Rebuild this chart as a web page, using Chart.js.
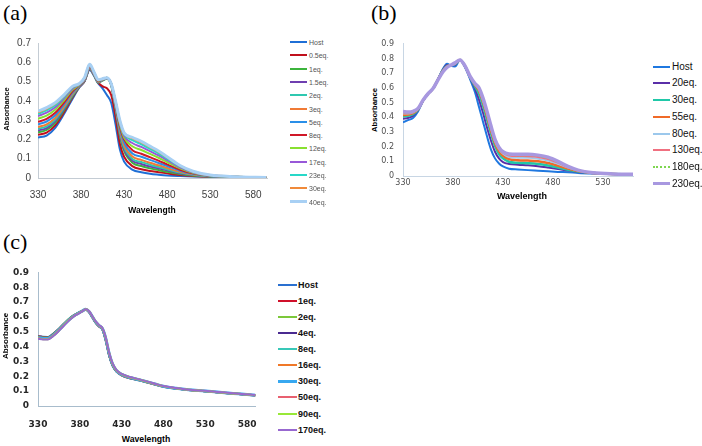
<!DOCTYPE html>
<html>
<head>
<meta charset="utf-8">
<script src="https://cdn.jsdelivr.net/npm/chart.js@4.4.1/dist/chart.umd.min.js"></script>
<style>
  html, body { margin: 0; padding: 0; background: #fff; }
  #page { position: relative; width: 702px; height: 446px; overflow: hidden; font-family: "Liberation Sans", Arial, sans-serif; }
  #page canvas { position: absolute; }
  .tag { position: absolute; font-family: "Liberation Serif", "Times New Roman", serif; font-size: 22px; line-height: 22px; color: #000; }
  .ttl { position: absolute; font-weight: bold; color: #000; white-space: nowrap; line-height: 1; }
  .rot { transform: translate(-50%, -50%) rotate(-90deg); }
  .hor { transform: translate(-50%, -50%); }
</style>
</head>
<body>
<div id="page">
  <div class="tag" style="left:3px;top:2px">(a)</div>
  <div class="tag" style="left:371px;top:2px">(b)</div>
  <div class="tag" style="left:3px;top:231px">(c)</div>

  <canvas id="chartA" width="280" height="176" style="left:0;top:30px"></canvas>
  <canvas id="chartB" width="265" height="160" style="left:380px;top:30px"></canvas>
  <canvas id="chartC" width="270" height="172" style="left:0;top:258px"></canvas>

  <div class="ttl rot" style="left:7px;top:109px;font-size:7.5px">Absorbance</div>
  <div class="ttl hor" style="left:152px;top:210px;font-size:8.5px">Wavelength</div>
  <div class="ttl rot" style="left:375px;top:110px;font-size:7.6px">Absorbance</div>
  <div class="ttl hor" style="left:522px;top:196px;font-size:9px">Wavelength</div>
  <div class="ttl rot" style="left:6px;top:336px;font-size:8px">Absorbance</div>
  <div class="ttl hor" style="left:146px;top:439px;font-size:8.7px">Wavelength</div>
</div>

<script>
/* ── (a) titration, 13 spectra ── */
const wlA = [330, 340, 350, 360, 370, 378, 384, 390, 395, 400, 405, 410, 415, 420, 425, 430, 440, 450, 460, 470, 480, 495, 510, 530, 560, 595];
const namesA = ['Host', '0.5eq.', '1eq.', '1.5eq.', '2eq.', '3eq.', '5eq.', '8eq.', '12eq.', '17eq.', '23eq.', '30eq.', '40eq.'];
const a_host = [0.21, 0.22, 0.26, 0.33, 0.41, 0.47, 0.50, 0.56, 0.53, 0.49, 0.465, 0.43, 0.39, 0.28, 0.15, 0.085, 0.042, 0.03, 0.022, 0.017, 0.013, 0.01, 0.008, 0.006, 0.004, 0.002];
const a_05eq = [0.224, 0.235, 0.273, 0.34, 0.417, 0.472, 0.502, 0.565, 0.535, 0.495, 0.475, 0.465, 0.43, 0.32, 0.18, 0.11, 0.06, 0.045, 0.036, 0.03, 0.024, 0.016, 0.011, 0.007, 0.004, 0.002];
const a_1eq = [0.237, 0.249, 0.286, 0.35, 0.423, 0.474, 0.504, 0.566, 0.534, 0.494, 0.505, 0.515, 0.48, 0.36, 0.22, 0.14, 0.078, 0.062, 0.05, 0.041, 0.032, 0.021, 0.013, 0.008, 0.005, 0.002];
const a_15eq = [0.246, 0.259, 0.295, 0.357, 0.428, 0.475, 0.505, 0.568, 0.535, 0.495, 0.507, 0.516, 0.483, 0.365, 0.23, 0.15, 0.088, 0.073, 0.06, 0.05, 0.04, 0.025, 0.015, 0.009, 0.005, 0.002];
const a_2eq = [0.255, 0.268, 0.303, 0.363, 0.431, 0.477, 0.507, 0.57, 0.537, 0.497, 0.508, 0.517, 0.485, 0.37, 0.24, 0.16, 0.097, 0.083, 0.069, 0.057, 0.045, 0.028, 0.017, 0.009, 0.005, 0.002];
const a_3eq = [0.264, 0.278, 0.312, 0.37, 0.436, 0.478, 0.508, 0.572, 0.538, 0.498, 0.509, 0.518, 0.487, 0.375, 0.25, 0.17, 0.11, 0.094, 0.079, 0.066, 0.052, 0.032, 0.019, 0.01, 0.005, 0.002];
const a_5eq = [0.278, 0.293, 0.325, 0.38, 0.443, 0.48, 0.51, 0.575, 0.54, 0.50, 0.51, 0.519, 0.488, 0.38, 0.26, 0.185, 0.126, 0.11, 0.094, 0.078, 0.062, 0.038, 0.022, 0.011, 0.006, 0.002];
const a_8eq = [0.291, 0.307, 0.338, 0.39, 0.449, 0.482, 0.512, 0.578, 0.542, 0.502, 0.511, 0.519, 0.489, 0.385, 0.27, 0.20, 0.143, 0.126, 0.108, 0.09, 0.071, 0.043, 0.024, 0.012, 0.006, 0.002];
const a_12eq = [0.307, 0.324, 0.354, 0.402, 0.457, 0.484, 0.514, 0.582, 0.544, 0.505, 0.512, 0.52, 0.489, 0.39, 0.28, 0.21, 0.163, 0.145, 0.125, 0.105, 0.083, 0.05, 0.027, 0.013, 0.006, 0.003];
const a_17eq = [0.321, 0.339, 0.367, 0.412, 0.463, 0.486, 0.516, 0.585, 0.546, 0.507, 0.513, 0.52, 0.49, 0.395, 0.29, 0.22, 0.18, 0.161, 0.139, 0.118, 0.093, 0.055, 0.03, 0.014, 0.007, 0.003];
const a_23eq = [0.332, 0.351, 0.377, 0.42, 0.469, 0.488, 0.518, 0.587, 0.548, 0.508, 0.514, 0.52, 0.49, 0.398, 0.295, 0.228, 0.195, 0.175, 0.151, 0.128, 0.101, 0.06, 0.032, 0.014, 0.007, 0.003];
const a_30eq = [0.34, 0.359, 0.385, 0.426, 0.472, 0.489, 0.519, 0.589, 0.549, 0.509, 0.515, 0.52, 0.49, 0.40, 0.298, 0.233, 0.205, 0.185, 0.16, 0.136, 0.107, 0.063, 0.034, 0.015, 0.007, 0.003];
const a_40eq = [0.345, 0.365, 0.39, 0.43, 0.475, 0.49, 0.52, 0.59, 0.55, 0.51, 0.515, 0.52, 0.49, 0.40, 0.30, 0.235, 0.21, 0.19, 0.165, 0.14, 0.11, 0.065, 0.035, 0.015, 0.007, 0.003];
const xTicksA = [330, 380, 430, 480, 530, 580];
const yTicksA = [0, 0.1, 0.2, 0.3, 0.4, 0.5, 0.6, 0.7];

/* ── (b) titration, 8 spectra ── */
const wlB = [330, 335, 340, 345, 350, 355, 360, 365, 370, 374, 378, 382, 387, 392, 397, 402, 406, 410, 414, 418, 422, 426, 430, 436, 445, 455, 465, 475, 485, 495, 505, 520, 540, 560];
const namesB = ['Host', '20eq.', '30eq.', '55eq.', '80eq.', '130eq.', '180eq.', '230eq.'];
const b_host = [0.365, 0.38, 0.395, 0.44, 0.51, 0.56, 0.595, 0.66, 0.73, 0.765, 0.75, 0.745, 0.79, 0.74, 0.66, 0.57, 0.47, 0.37, 0.27, 0.18, 0.12, 0.085, 0.065, 0.05, 0.045, 0.04, 0.036, 0.032, 0.028, 0.025, 0.021, 0.017, 0.013, 0.011];
const b_20eq = [0.39, 0.395, 0.41, 0.45, 0.512, 0.56, 0.595, 0.658, 0.725, 0.755, 0.752, 0.755, 0.79, 0.745, 0.67, 0.595, 0.52, 0.43, 0.33, 0.24, 0.165, 0.12, 0.095, 0.082, 0.077, 0.073, 0.067, 0.058, 0.048, 0.037, 0.028, 0.019, 0.014, 0.012];
const b_30eq = [0.405, 0.41, 0.42, 0.452, 0.513, 0.56, 0.595, 0.657, 0.72, 0.748, 0.754, 0.762, 0.79, 0.747, 0.675, 0.61, 0.56, 0.48, 0.385, 0.29, 0.205, 0.15, 0.12, 0.097, 0.09, 0.087, 0.082, 0.072, 0.058, 0.042, 0.03, 0.02, 0.014, 0.012];
const b_55eq = [0.415, 0.418, 0.428, 0.455, 0.514, 0.56, 0.595, 0.656, 0.716, 0.745, 0.755, 0.765, 0.79, 0.748, 0.678, 0.62, 0.58, 0.505, 0.41, 0.31, 0.225, 0.17, 0.138, 0.115, 0.108, 0.105, 0.1, 0.088, 0.07, 0.05, 0.034, 0.021, 0.014, 0.012];
const b_80eq = [0.425, 0.425, 0.433, 0.457, 0.515, 0.56, 0.595, 0.655, 0.713, 0.743, 0.755, 0.767, 0.79, 0.749, 0.679, 0.625, 0.59, 0.515, 0.425, 0.325, 0.237, 0.182, 0.152, 0.13, 0.125, 0.124, 0.118, 0.105, 0.083, 0.057, 0.037, 0.022, 0.014, 0.012];
const b_130eq = [0.432, 0.43, 0.436, 0.458, 0.515, 0.56, 0.595, 0.655, 0.712, 0.742, 0.755, 0.768, 0.79, 0.75, 0.68, 0.628, 0.595, 0.522, 0.432, 0.332, 0.243, 0.188, 0.158, 0.14, 0.136, 0.135, 0.13, 0.116, 0.091, 0.06, 0.038, 0.022, 0.014, 0.012];
const b_180eq = [0.436, 0.433, 0.438, 0.459, 0.515, 0.56, 0.595, 0.655, 0.711, 0.741, 0.755, 0.769, 0.79, 0.75, 0.68, 0.629, 0.598, 0.527, 0.437, 0.337, 0.247, 0.192, 0.162, 0.145, 0.142, 0.142, 0.137, 0.122, 0.096, 0.063, 0.039, 0.022, 0.014, 0.012];
const b_230eq = [0.44, 0.435, 0.44, 0.46, 0.515, 0.56, 0.595, 0.655, 0.71, 0.74, 0.755, 0.77, 0.79, 0.75, 0.68, 0.63, 0.60, 0.53, 0.44, 0.34, 0.25, 0.195, 0.165, 0.15, 0.148, 0.148, 0.142, 0.128, 0.1, 0.065, 0.04, 0.022, 0.014, 0.012];
const xTicksB = [330, 380, 430, 480, 530];
const yTicksB = [0, 0.1, 0.2, 0.3, 0.4, 0.5, 0.6, 0.7, 0.8, 0.9];

/* ── (c) titration, 10 spectra (almost no change) ── */
const wlC = [330, 336, 342, 348, 354, 360, 366, 372, 378, 383, 387, 391, 395, 399, 403, 407, 411, 415, 419, 424, 430, 440, 450, 460, 470, 480, 495, 510, 530, 550, 570, 590];
const namesC = ['Host', '1eq.', '2eq.', '4eq.', '8eq.', '16eq.', '30eq.', '50eq.', '90eq.', '170eq.'];
const c_host = [0.472, 0.466, 0.465, 0.486, 0.515, 0.548, 0.58, 0.606, 0.626, 0.64, 0.648, 0.632, 0.596, 0.56, 0.535, 0.515, 0.44, 0.34, 0.273, 0.23, 0.206, 0.186, 0.174, 0.159, 0.144, 0.13, 0.117, 0.107, 0.099, 0.089, 0.08, 0.071];
const c_1eq = [0.47, 0.464, 0.463, 0.485, 0.514, 0.548, 0.58, 0.607, 0.627, 0.641, 0.649, 0.633, 0.597, 0.561, 0.536, 0.516, 0.442, 0.342, 0.275, 0.231, 0.207, 0.187, 0.175, 0.16, 0.145, 0.131, 0.117, 0.107, 0.099, 0.089, 0.08, 0.071];
const c_2eq = [0.468, 0.462, 0.461, 0.484, 0.514, 0.549, 0.582, 0.609, 0.628, 0.642, 0.65, 0.634, 0.598, 0.562, 0.537, 0.517, 0.444, 0.344, 0.276, 0.232, 0.208, 0.188, 0.175, 0.16, 0.145, 0.131, 0.118, 0.108, 0.1, 0.09, 0.081, 0.072];
const c_4eq = [0.467, 0.46, 0.46, 0.482, 0.512, 0.547, 0.58, 0.607, 0.627, 0.641, 0.65, 0.635, 0.599, 0.563, 0.538, 0.518, 0.446, 0.346, 0.277, 0.233, 0.209, 0.189, 0.176, 0.161, 0.146, 0.132, 0.118, 0.108, 0.1, 0.09, 0.081, 0.072];
const c_8eq = [0.465, 0.458, 0.458, 0.48, 0.51, 0.545, 0.578, 0.605, 0.625, 0.64, 0.65, 0.635, 0.6, 0.565, 0.54, 0.52, 0.45, 0.35, 0.28, 0.235, 0.21, 0.19, 0.177, 0.162, 0.146, 0.132, 0.118, 0.108, 0.1, 0.09, 0.081, 0.072];
const c_16eq = [0.462, 0.456, 0.456, 0.478, 0.508, 0.543, 0.576, 0.604, 0.624, 0.64, 0.651, 0.636, 0.601, 0.566, 0.541, 0.521, 0.453, 0.353, 0.282, 0.237, 0.212, 0.191, 0.178, 0.163, 0.147, 0.133, 0.119, 0.109, 0.1, 0.09, 0.081, 0.072];
const c_30eq = [0.46, 0.454, 0.454, 0.476, 0.506, 0.541, 0.575, 0.603, 0.624, 0.64, 0.651, 0.637, 0.602, 0.567, 0.542, 0.522, 0.456, 0.356, 0.284, 0.238, 0.213, 0.192, 0.179, 0.164, 0.148, 0.133, 0.119, 0.109, 0.101, 0.091, 0.082, 0.073];
const c_50eq = [0.458, 0.452, 0.452, 0.474, 0.504, 0.54, 0.574, 0.602, 0.623, 0.639, 0.651, 0.638, 0.603, 0.568, 0.543, 0.523, 0.458, 0.358, 0.286, 0.239, 0.214, 0.193, 0.18, 0.164, 0.148, 0.134, 0.12, 0.11, 0.101, 0.091, 0.082, 0.073];
const c_90eq = [0.455, 0.45, 0.45, 0.472, 0.502, 0.538, 0.572, 0.601, 0.622, 0.638, 0.652, 0.639, 0.604, 0.569, 0.544, 0.524, 0.46, 0.36, 0.288, 0.24, 0.215, 0.194, 0.18, 0.165, 0.149, 0.134, 0.12, 0.11, 0.101, 0.091, 0.082, 0.073];
const c_170eq = [0.453, 0.448, 0.448, 0.47, 0.5, 0.536, 0.57, 0.6, 0.621, 0.638, 0.652, 0.64, 0.605, 0.57, 0.545, 0.525, 0.462, 0.362, 0.29, 0.241, 0.216, 0.195, 0.181, 0.166, 0.15, 0.135, 0.121, 0.11, 0.102, 0.092, 0.083, 0.074];
const xTicksC = [330, 380, 430, 480, 530, 580];
const yTicksC = [0, 0.1, 0.2, 0.3, 0.4, 0.5, 0.6, 0.7, 0.8, 0.9];

/* ── styles ── */
const colorsA = ['#1f6fd6', '#c0101c', '#3cb43c', '#6f3fb0', '#2fc8b0', '#f07a35', '#2a8fe8', '#d01828', '#88e030', '#9858d8', '#28d8c8', '#f08a3a', '#a8d0f4'];
const widthsA = [2, 2, 2, 2, 2, 2, 2, 2, 2, 2, 2, 2, 3];
const colorsB = ['#1f78e0', '#5a2fa8', '#20c8a8', '#f06a28', '#9cc8ec', '#f07080', '#7ed650', '#a898e0'];
const widthsB = [2, 2, 2.5, 2.5, 2, 2, 2, 3.5];
const colorsC = ['#2a70d0', '#d0102a', '#7cc83a', '#4a2a90', '#38c8b8', '#f07828', '#38a8f0', '#e86070', '#98e838', '#9868d0'];
const widthsC = [2, 2, 2, 2, 2, 2, 3, 2, 2, 2];

const fmtY = v => String(+v.toFixed(1));

function spectrum(id, o) {
  const datasets = o.series.map((ys, i) => ({
    label: o.names[i],
    data: ys.map((y, j) => ({ x: o.wl[j], y })),
    borderColor: o.colors[i],
    borderWidth: o.widths[i],
    borderDash: (o.dashes && o.dashes[i]) || [],
    pointRadius: 0,
    fill: false,
    cubicInterpolationMode: 'monotone',
    order: -i, // later spectra on top, like the spreadsheet
  }));
  return new Chart(document.getElementById(id), {
    type: 'line',
    data: { datasets },
    options: {
      responsive: false, animation: false,
      layout: { padding: o.pad },
      plugins: { legend: { display: false }, tooltip: { enabled: false } },
      scales: {
        x: {
          type: 'linear', min: o.xMin, max: o.xMax,
          grid: { display: false, drawTicks: false },
          border: { color: o.axis, width: 1 },
          ticks: { font: o.font, color: o.tickColor, padding: o.xPad, maxRotation: 0, autoSkip: false },
          afterBuildTicks: s => { s.ticks = o.xTicks.map(v => ({ value: v })); },
          afterFit: s => { s.height = o.xH; },
        },
        y: {
          min: 0, max: o.yMax,
          grid: { display: false, drawTicks: false },
          border: { color: o.axis, width: 1 },
          ticks: { font: o.font, color: o.tickColor, padding: o.yPad, callback: fmtY },
          afterBuildTicks: s => { s.ticks = o.yTicks.map(v => ({ value: v })); },
          afterFit: s => { s.width = o.yW; },
        }
      }
    }
  });
}

function legend(names, colors, widths, o) {
  const page = document.getElementById('page');
  names.forEach((n, i) => {
    const y = o.y0 + i * o.dy;
    const ln = document.createElement('div');
    const dashed = o.dashes && o.dashes[i];
    ln.style.cssText = `position:absolute;left:${o.x0}px;top:${y - widths[i] / 2}px;width:${o.len}px;` +
      (dashed ? `height:0;border-top:${widths[i]}px dotted ${colors[i]};` : `height:${widths[i]}px;background:${colors[i]};`);
    const tx = document.createElement('div');
    tx.textContent = n;
    tx.style.cssText = `position:absolute;left:${o.tx}px;top:${y}px;transform:translateY(-50%);font:${o.font};color:${o.color};white-space:nowrap;line-height:1`;
    page.append(ln, tx);
  });
}

spectrum('chartA', {
  wl: wlA, names: namesA, colors: colorsA, widths: widthsA,
  series: [a_host, a_05eq, a_1eq, a_15eq, a_2eq, a_3eq, a_5eq, a_8eq, a_12eq, a_17eq, a_23eq, a_30eq, a_40eq],
  xMin: 330, xMax: 596, yMax: 0.7, xTicks: xTicksA, yTicks: yTicksA,
  pad: { top: 12, right: 13, left: 0, bottom: 0 }, yW: 38, xH: 28, xPad: 11, yPad: 7,
  font: { family: '"Liberation Sans", Arial, sans-serif', size: 10 }, tickColor: '#404040', axis: '#c4ccd4',
});
legend(namesA, colorsA, widthsA, { x0: 290, len: 17, tx: 309, y0: 42, dy: 13.3, font: '7px "Liberation Sans", Arial, sans-serif', color: '#555' });

const dashesB = [null, null, null, null, null, null, [2, 2], null];
spectrum('chartB', {
  wl: wlB, names: namesB, colors: colorsB, widths: widthsB, dashes: dashesB,
  series: [b_host, b_20eq, b_30eq, b_55eq, b_80eq, b_130eq, b_180eq, b_230eq],
  xMin: 330, xMax: 560, yMax: 0.9, xTicks: xTicksB, yTicks: yTicksB,
  pad: { top: 9, right: 12, left: 0, bottom: 0 }, yW: 23, xH: 14, xPad: 2, yPad: 9,
  font: { family: '"DejaVu Sans", Verdana, sans-serif', size: 8 }, tickColor: '#505050', axis: '#c8d6e4',
});
legend(namesB, colorsB, widthsB, { x0: 653, len: 17, tx: 672, y0: 66.7, dy: 16.7, font: '10px "Liberation Sans", Arial, sans-serif', color: '#111', dashes: dashesB });

spectrum('chartC', {
  wl: wlC, names: namesC, colors: colorsC, widths: widthsC,
  series: [c_host, c_1eq, c_2eq, c_4eq, c_8eq, c_16eq, c_30eq, c_50eq, c_90eq, c_170eq],
  xMin: 330, xMax: 590, yMax: 0.9, xTicks: xTicksC, yTicks: yTicksC,
  pad: { top: 12, right: 14, left: 0, bottom: 0 }, yW: 38, xH: 24, xPad: 13, yPad: 9,
  font: { family: '"DejaVu Sans", Verdana, sans-serif', size: 9, weight: 'bold' }, tickColor: '#262626', axis: '#a8bccc',
});
legend(namesC, colorsC, widthsC, { x0: 278, len: 19, tx: 298, y0: 284.7, dy: 16.1, font: 'bold 9px "Liberation Sans", Arial, sans-serif', color: '#111' });
</script>
</body>
</html>
